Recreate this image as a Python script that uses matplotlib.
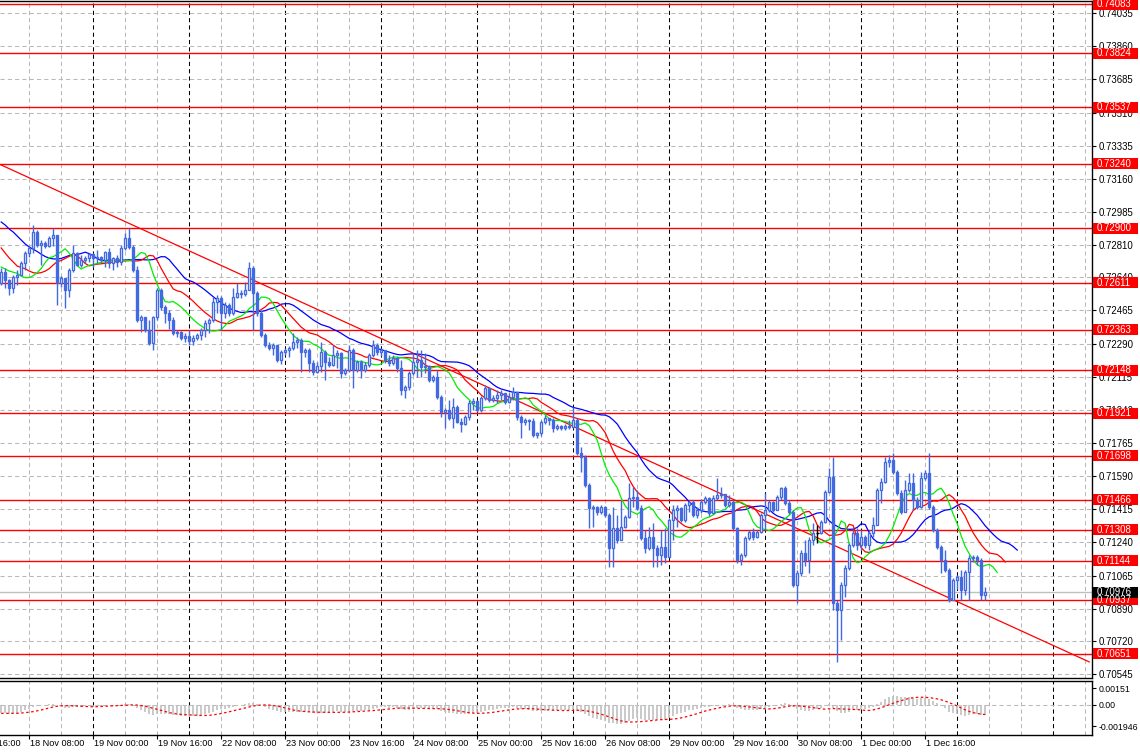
"""AUD/USD H1 chart (18 Nov - 2 Dec) with Alligator, MACD pane and S/R levels.

Writes out.png (1140x754) in the working folder.
"""
import numpy as np
import matplotlib
matplotlib.use('Agg')
import matplotlib.pyplot as plt
import matplotlib.transforms as mtransforms
from matplotlib.patches import Rectangle

CANDLE = '#4169E1'
GRID   = '#B9B9B9'
LEVEL  = '#FF0000'
JAW    = '#0000FF'
TEETH  = '#FF0000'
LIPS   = '#00EE00'
HIST   = '#C0C0C0'

plt.rcParams.update({
    'font.family': ['Liberation Sans', 'DejaVu Sans'],
    'font.size': 6.6,
    'axes.linewidth': 1.0,
    'figure.facecolor': 'white',
})

W, H = 1140, 754

# ---------------------------- candles (H1) ----------------------------------
OPEN0 = 0.72610
CLOSE = [
    0.72668, 0.72626, 0.72583, 0.72641, 0.72652, 0.72715, 0.72768, 0.72795, 0.72879, 0.72810,
    0.72821, 0.72805, 0.72847, 0.72863, 0.72610, 0.72636, 0.72573, 0.72678, 0.72768, 0.72705,
    0.72731, 0.72742, 0.72763, 0.72742, 0.72747, 0.72731, 0.72773, 0.72715, 0.72742, 0.72721,
    0.72795, 0.72847, 0.72800, 0.72678, 0.72414, 0.72430, 0.72362, 0.72293, 0.72430, 0.72573,
    0.72483, 0.72451, 0.72414, 0.72346, 0.72351, 0.72320, 0.72330, 0.72304, 0.72320, 0.72335,
    0.72362, 0.72399, 0.72414, 0.72509, 0.72531, 0.72451, 0.72494, 0.72451, 0.72536, 0.72557,
    0.72552, 0.72573, 0.72689, 0.72557, 0.72451, 0.72335, 0.72282, 0.72267, 0.72282, 0.72203,
    0.72245, 0.72256, 0.72267, 0.72298, 0.72309, 0.72245, 0.72256, 0.72188, 0.72140, 0.72172,
    0.72245, 0.72193, 0.72177, 0.72230, 0.72240, 0.72135, 0.72150, 0.72256, 0.72150, 0.72193,
    0.72150, 0.72177, 0.72230, 0.72282, 0.72245, 0.72256, 0.72203, 0.72188, 0.72214, 0.72161,
    0.72045, 0.72061, 0.72135, 0.72193, 0.72203, 0.72166, 0.72171, 0.72098, 0.72113, 0.72008,
    0.71929, 0.71939, 0.71897, 0.71955, 0.71876, 0.71866, 0.71902, 0.71976, 0.71986, 0.71939,
    0.72003, 0.72055, 0.71992, 0.72003, 0.72018, 0.72029, 0.71981, 0.72008, 0.72034, 0.71902,
    0.71876, 0.71886, 0.71881, 0.71807, 0.71818, 0.71876, 0.71897, 0.71886, 0.71844, 0.71855,
    0.71844, 0.71855, 0.71849, 0.71886, 0.71712, 0.71691, 0.71543, 0.71422, 0.71427, 0.71401,
    0.71427, 0.71385, 0.71211, 0.71316, 0.71253, 0.71321, 0.71374, 0.71475, 0.71480, 0.71422,
    0.71263, 0.71211, 0.71268, 0.71211, 0.71174, 0.71216, 0.71163, 0.71358, 0.71411, 0.71422,
    0.71358, 0.71438, 0.71454, 0.71385, 0.71411, 0.71454, 0.71475, 0.71395, 0.71475, 0.71490,
    0.71496, 0.71438, 0.71454, 0.71316, 0.71147, 0.71174, 0.71263, 0.71295, 0.71268, 0.71295,
    0.71385, 0.71411, 0.71454, 0.71411, 0.71480, 0.71527, 0.71448, 0.71401, 0.71015, 0.71079,
    0.71184, 0.71147, 0.71253, 0.71290, 0.71290, 0.71348, 0.71506, 0.71585, 0.70920, 0.70883,
    0.71015, 0.71105, 0.71226, 0.71290, 0.71226, 0.71268, 0.71226, 0.71290, 0.71332, 0.71517,
    0.71559, 0.71665, 0.71675, 0.71612, 0.71501, 0.71401, 0.71517, 0.71554, 0.71464, 0.71427,
    0.71580, 0.71607, 0.71427, 0.71306, 0.71216, 0.71147, 0.71094, 0.70936, 0.71042, 0.71057,
    0.70989, 0.71084, 0.71158, 0.71163, 0.71147, 0.70962, 0.70976,
]
HIGH = [
    0.72689, 0.72689, 0.72631, 0.72652, 0.72678, 0.72726, 0.72779, 0.72805, 0.72916, 0.72890,
    0.72837, 0.72832, 0.72858, 0.72900, 0.72855, 0.72647, 0.72636, 0.72689, 0.72810, 0.72775,
    0.72758, 0.72752, 0.72768, 0.72768, 0.72784, 0.72752, 0.72779, 0.72795, 0.72747, 0.72758,
    0.72810, 0.72874, 0.72900, 0.72810, 0.72699, 0.72441, 0.72430, 0.72414, 0.72435, 0.72583,
    0.72583, 0.72494, 0.72467, 0.72430, 0.72362, 0.72357, 0.72346, 0.72362, 0.72335, 0.72346,
    0.72372, 0.72414, 0.72425, 0.72536, 0.72546, 0.72541, 0.72509, 0.72504, 0.72583, 0.72610,
    0.72573, 0.72615, 0.72721, 0.72699, 0.72565, 0.72467, 0.72346, 0.72298, 0.72293, 0.72282,
    0.72256, 0.72267, 0.72277, 0.72346, 0.72325, 0.72320, 0.72267, 0.72267, 0.72203, 0.72193,
    0.72298, 0.72256, 0.72219, 0.72282, 0.72256, 0.72245, 0.72161, 0.72282, 0.72267, 0.72203,
    0.72203, 0.72193, 0.72240, 0.72309, 0.72293, 0.72267, 0.72256, 0.72230, 0.72230, 0.72219,
    0.72203, 0.72071, 0.72145, 0.72240, 0.72256, 0.72256, 0.72240, 0.72177, 0.72124, 0.72150,
    0.72018, 0.71950, 0.71992, 0.72003, 0.71966, 0.71897, 0.71913, 0.71992, 0.72003, 0.71990,
    0.72013, 0.72071, 0.72055, 0.72018, 0.72045, 0.72045, 0.72029, 0.72029, 0.72061, 0.72034,
    0.71913, 0.71897, 0.71892, 0.71897, 0.71823, 0.71886, 0.71913, 0.71897, 0.71897, 0.71865,
    0.71860, 0.71865, 0.71886, 0.71955, 0.71897, 0.71744, 0.71702, 0.71554, 0.71438, 0.71432,
    0.71438, 0.71432, 0.71395, 0.71427, 0.71385, 0.71464, 0.71385, 0.71554, 0.71533, 0.71517,
    0.71438, 0.71306, 0.71321, 0.71343, 0.71226, 0.71306, 0.71316, 0.71369, 0.71438, 0.71438,
    0.71427, 0.71448, 0.71464, 0.71464, 0.71427, 0.71469, 0.71485, 0.71480, 0.71490, 0.71580,
    0.71533, 0.71496, 0.71490, 0.71464, 0.71321, 0.71184, 0.71274, 0.71306, 0.71316, 0.71306,
    0.71395, 0.71501, 0.71464, 0.71459, 0.71490, 0.71533, 0.71538, 0.71464, 0.71411, 0.71094,
    0.71200, 0.71253, 0.71268, 0.71343, 0.71332, 0.71358, 0.71517, 0.71633, 0.71691, 0.70936,
    0.71031, 0.71121, 0.71237, 0.71306, 0.71316, 0.71306, 0.71279, 0.71306, 0.71374, 0.71527,
    0.71580, 0.71691, 0.71702, 0.71712, 0.71622, 0.71517, 0.71570, 0.71607, 0.71607, 0.71480,
    0.71612, 0.71622, 0.71712, 0.71438, 0.71316, 0.71226, 0.71200, 0.71105, 0.71052, 0.71068,
    0.71094, 0.71094, 0.71174, 0.71174, 0.71174, 0.71158, 0.71005,
]
LOW = [
    0.72599, 0.72583, 0.72546, 0.72557, 0.72599, 0.72652, 0.72678, 0.72747, 0.72768, 0.72800,
    0.72705, 0.72795, 0.72800, 0.72805, 0.72494, 0.72588, 0.72478, 0.72536, 0.72668, 0.72699,
    0.72694, 0.72715, 0.72721, 0.72694, 0.72715, 0.72721, 0.72694, 0.72689, 0.72678, 0.72694,
    0.72705, 0.72784, 0.72789, 0.72668, 0.72404, 0.72351, 0.72351, 0.72282, 0.72256, 0.72414,
    0.72467, 0.72399, 0.72367, 0.72335, 0.72325, 0.72309, 0.72298, 0.72282, 0.72282, 0.72309,
    0.72309, 0.72325, 0.72346, 0.72405, 0.72451, 0.72362, 0.72425, 0.72435, 0.72440, 0.72531,
    0.72531, 0.72541, 0.72573, 0.72362, 0.72435, 0.72325, 0.72272, 0.72256, 0.72230, 0.72193,
    0.72182, 0.72230, 0.72219, 0.72256, 0.72267, 0.72140, 0.72219, 0.72140, 0.72124, 0.72135,
    0.72140, 0.72098, 0.72166, 0.72172, 0.72161, 0.72108, 0.72124, 0.72140, 0.72055, 0.72140,
    0.72108, 0.72140, 0.72166, 0.72219, 0.72230, 0.72224, 0.72188, 0.72172, 0.72177, 0.72140,
    0.72018, 0.72003, 0.72045, 0.72124, 0.72113, 0.72113, 0.72135, 0.72087, 0.72087, 0.71997,
    0.71902, 0.71844, 0.71886, 0.71844, 0.71871, 0.71823, 0.71860, 0.71886, 0.71939, 0.71929,
    0.71929, 0.71992, 0.71981, 0.71981, 0.71976, 0.71992, 0.71971, 0.71975, 0.71992, 0.71886,
    0.71791, 0.71860, 0.71834, 0.71797, 0.71791, 0.71802, 0.71865, 0.71860, 0.71823, 0.71834,
    0.71834, 0.71834, 0.71839, 0.71844, 0.71702, 0.71612, 0.71533, 0.71316, 0.71321, 0.71385,
    0.71390, 0.71374, 0.71110, 0.71110, 0.71237, 0.71253, 0.71316, 0.71369, 0.71427, 0.71411,
    0.71253, 0.71184, 0.71200, 0.71110, 0.71110, 0.71121, 0.71131, 0.71163, 0.71253, 0.71321,
    0.71348, 0.71348, 0.71401, 0.71374, 0.71369, 0.71395, 0.71443, 0.71379, 0.71390, 0.71464,
    0.71475, 0.71427, 0.71427, 0.71306, 0.71131, 0.71121, 0.71163, 0.71253, 0.71253, 0.71263,
    0.71290, 0.71306, 0.71401, 0.71401, 0.71411, 0.71464, 0.71438, 0.71390, 0.71005, 0.70920,
    0.71060, 0.71116, 0.71079, 0.71226, 0.71237, 0.71285, 0.71343, 0.71501, 0.70883, 0.70609,
    0.70725, 0.70952, 0.71094, 0.71216, 0.71200, 0.71200, 0.71210, 0.71200, 0.71268, 0.71332,
    0.71448, 0.71554, 0.71638, 0.71601, 0.71490, 0.71390, 0.71401, 0.71506, 0.71411, 0.71416,
    0.71422, 0.71570, 0.71416, 0.71295, 0.71205, 0.71079, 0.71084, 0.70925, 0.70936, 0.70992,
    0.70936, 0.70962, 0.70936, 0.71137, 0.71121, 0.70936, 0.70936,
]

# Alligator values already on screen left of the first bar (jaw/teeth/lips)
JAW_HEAD   = [0.72932, 0.72916, 0.72895, 0.72879, 0.72858, 0.72837, 0.72816, 0.72800]
TEETH_HEAD = [0.72795, 0.72768, 0.72742, 0.72721, 0.72699]
LIPS_HEAD  = [0.72694, 0.72684, 0.72673]
EMA12_SEED = 0.72700
EMA26_SEED = 0.72780

# ---------------------------- drawn objects ---------------------------------
LEVELS = [0.74083, 0.73824, 0.73537, 0.73240, 0.72900, 0.72611, 0.72363, 0.72148,
          0.71921, 0.71698, 0.71466, 0.71308, 0.71144, 0.70937, 0.70651]
BID = 0.70976
TREND_BARS   = [0, 272]
TREND_PRICES = [0.73233, 0.70609]

PRICE_TICKS = [0.74035, 0.73860, 0.73685, 0.73510, 0.73335, 0.73160, 0.72985,
               0.72810, 0.72640, 0.72465, 0.72290, 0.72115, 0.71940, 0.71765,
               0.71590, 0.71415, 0.71240, 0.71065, 0.70890, 0.70720, 0.70545]
MACD_TICKS = [0.00151, 0.0, -0.001946]
MACD_TICK_LABELS = ['0.00151', '0.00', '-0.001946']

TIME_LABELS = ['17 Nov 16:00', '18 Nov 08:00', '19 Nov 00:00', '19 Nov 16:00',
               '22 Nov 08:00', '23 Nov 00:00', '23 Nov 16:00', '24 Nov 08:00',
               '25 Nov 00:00', '25 Nov 16:00', '26 Nov 08:00', '29 Nov 00:00',
               '29 Nov 16:00', '30 Nov 08:00', '1 Dec 00:00', '1 Dec 16:00']
TIME_LABEL_BARS = [-9, 7, 23, 39, 55, 71, 87, 103, 119, 135, 151, 167, 183, 199, 215, 231]

XLIM = (-0.3, 272.7)
YLIM = (0.70524, 0.74099)
MACD_YLIM = (-0.00273, 0.00218)
FS = 6.9


def smma(values, period, seed):
    out, prev = [], seed
    for v in values:
        prev = (prev * (period - 1) + v) / period
        out.append(prev)
    return np.array(out)


def ema(values, period, seed):
    k = 2.0 / (period + 1)
    out, prev = [], seed
    for v in values:
        prev = prev + k * (v - prev)
        out.append(prev)
    return np.array(out)


def main():
    close = np.array(CLOSE)
    high = np.array(HIGH)
    low = np.array(LOW)
    opn = np.r_[OPEN0, close[:-1]]
    n = len(close)
    idx = np.arange(n)

    fig = plt.figure(figsize=(W / 100, H / 100), dpi=100)
    ax = fig.add_axes([0, 76 / H, 1092 / W, 677 / H])
    axm = fig.add_axes([0, 19 / H, 1092 / W, 54 / H])

    for a in (ax, axm):
        a.set_xlim(*XLIM)
        a.spines['left'].set_visible(False)
        for s in ('top', 'right', 'bottom'):
            a.spines[s].set_color('black')
        # vertical grid: gray every 8 bars, black at day starts
        for b in range(7, 273, 8):
            day = (b - 23) % 24 == 0
            a.axvline(b, color='black' if day else GRID, lw=0.75,
                      ls=(0, (4, 3)), zorder=0.5)

    ax.set_ylim(*YLIM)
    for p in PRICE_TICKS:
        ax.axhline(p, color=GRID, lw=0.75, ls=(0, (4, 3)), zorder=0.5)

    # support / resistance levels, trend line, bid line
    for lv in LEVELS:
        ax.axhline(lv, color=LEVEL, lw=1.0, zorder=1.5)
    ax.axhline(BID, color='#C0C0C0', lw=1.0, zorder=1.4)
    ax.plot(TREND_BARS, TREND_PRICES, color=LEVEL, lw=0.9, zorder=1.6)

    # Alligator on median price
    med = (high + low) / 2
    jaw = smma(med, 13, JAW_HEAD[-1])
    teeth = smma(med, 8, TEETH_HEAD[-1])
    lips = smma(med, 5, LIPS_HEAD[-1])
    ax.plot(np.r_[np.arange(8), idx + 8], np.r_[JAW_HEAD, jaw], color=JAW, lw=0.9, zorder=2)
    ax.plot(np.r_[np.arange(5), idx + 5], np.r_[TEETH_HEAD, teeth], color=TEETH, lw=0.9, zorder=2)
    ax.plot(np.r_[np.arange(3), idx + 3], np.r_[LIPS_HEAD, lips], color=LIPS, lw=0.9, zorder=2)

    # candles
    up = close > opn
    dn = close < opn
    dj = close == opn
    ax.vlines(idx[~dj], low[~dj], high[~dj], color=CANDLE, lw=1.0, zorder=3)
    ax.bar(idx[up], (close - opn)[up], bottom=opn[up], width=0.55,
           facecolor='white', edgecolor=CANDLE, lw=0.95, zorder=4)
    ax.bar(idx[dn], (close - opn)[dn], bottom=opn[dn], width=0.55,
           facecolor=CANDLE, edgecolor=CANDLE, lw=0.95, zorder=4)
    ax.vlines(idx[dj], low[dj], high[dj], color='black', lw=1.0, zorder=4)
    ax.hlines(close[dj], idx[dj] - 0.35, idx[dj] + 0.35, color='black', lw=1.0, zorder=4)

    # right price scale
    ax.yaxis.tick_right()
    ax.set_yticks(PRICE_TICKS)
    ax.set_yticklabels([f'{p:.5f}' for p in PRICE_TICKS])
    ax.tick_params(axis='y', direction='out', length=3, width=0.8, pad=2, labelsize=FS)
    ax.set_xticks([])

    px_per_price = 677 / (YLIM[1] - YLIM[0])
    box_h = 11 / px_per_price
    lab_tr = mtransforms.blended_transform_factory(ax.transAxes, ax.transData)
    for lv, bg in [(v, LEVEL) for v in LEVELS] + [(BID, 'black')]:
        ax.add_patch(Rectangle((1.0005, lv - box_h / 2), 45 / 1092, box_h, transform=lab_tr,
                               facecolor=bg, edgecolor='none', clip_on=False, zorder=10))
        ax.text(1.0045, lv, f'{lv:.5f}', transform=lab_tr, color='white', fontsize=FS,
                va='center', ha='left', clip_on=False, zorder=11)

    # MACD(12,26,9) pane
    macd = ema(close, 12, EMA12_SEED) - ema(close, 26, EMA26_SEED)
    signal = np.array([macd[max(0, i - 8):i + 1].mean() for i in range(n)])
    axm.set_ylim(*MACD_YLIM)
    axm.axhline(0, color=GRID, lw=0.75, ls=(0, (4, 3)), zorder=0.5)
    axm.vlines(idx, 0, macd, color=HIST, lw=1.2, zorder=2)
    axm.plot(idx, signal, color='red', lw=0.9, ls=(0, (2, 2)), zorder=3)
    axm.yaxis.tick_right()
    axm.set_yticks(MACD_TICKS)
    axm.set_yticklabels(MACD_TICK_LABELS)
    axm.tick_params(axis='y', direction='out', length=3, width=0.8, pad=2, labelsize=6.3)
    axm.set_xticks([b for b in TIME_LABEL_BARS if b >= 0])
    axm.set_xticklabels([])
    axm.tick_params(axis='x', direction='out', length=3, width=0.8)

    lab_x = mtransforms.blended_transform_factory(axm.transData, fig.transFigure)
    for b, t in zip(TIME_LABEL_BARS, TIME_LABELS):
        fig.text(b + 0.3, 10 / H, t, transform=lab_x, fontsize=6.6,
                 ha='left', va='center')

    fig.savefig('out.png', dpi=100)
    plt.close(fig)


if __name__ == '__main__':
    main()
